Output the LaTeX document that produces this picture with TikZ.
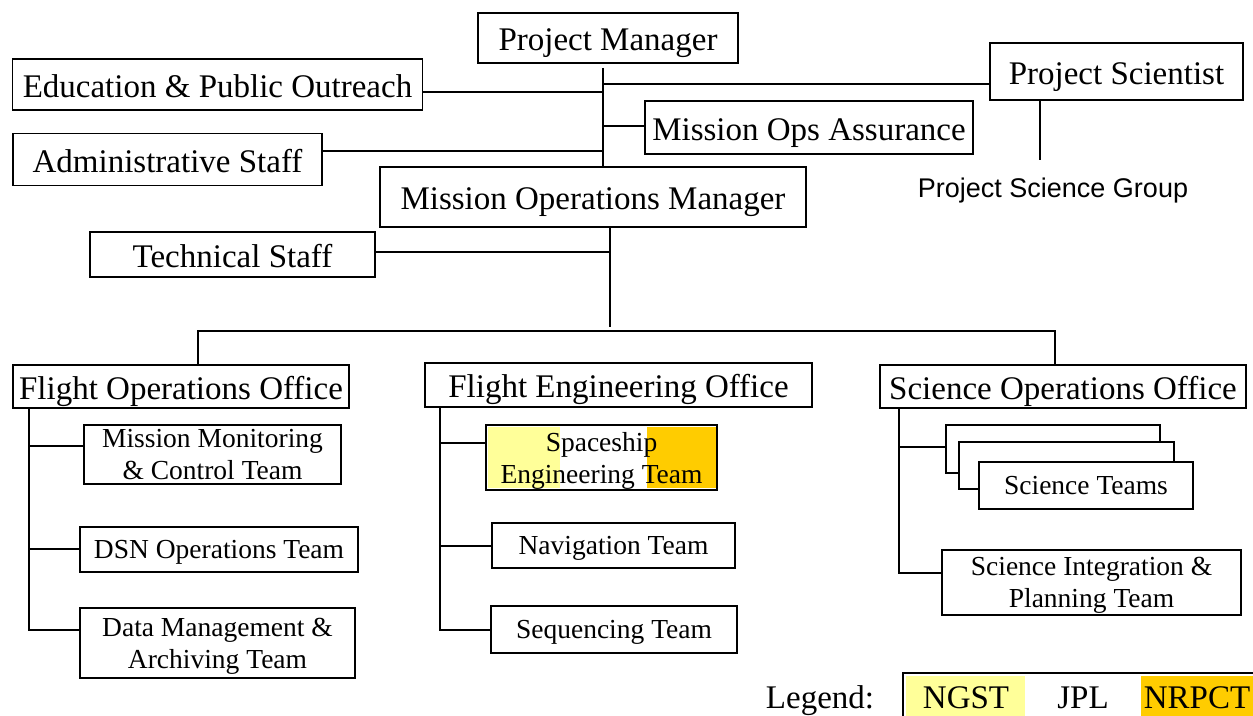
\documentclass[tikz,border=0pt]{standalone}
\usepackage{fontspec}
\setmainfont{Liberation Serif}
\newfontfamily\psgfont{Liberation Sans}
\usetikzlibrary{positioning, calc}
\definecolor{ngstyellow}{HTML}{FFFF99}
\definecolor{nrpctorange}{HTML}{FFCC00}

\begin{document}
\begin{tikzpicture}[x=1pt, y=-1pt,
  orgbox/.style={draw, line width=1.8pt, fill=white, inner sep=0pt, align=center, text depth=0pt},
  bigtext/.style={font=\fontsize{33}{36}\selectfont, text height=25pt},
  smalltext/.style={font=\fontsize{27.5}{32}\selectfont},
  link/.style={line width=1.8pt}]
  \useasboundingbox (0,0) rectangle (1253,715);

  % Top management
  \node[orgbox, bigtext, minimum width=260pt, minimum height=50pt] (pm) at (608,38) {Project Manager};
  \node[orgbox, bigtext, minimum width=410pt, minimum height=51pt] (epo) at (217.5,84.5) {Education \& Public Outreach};
  \node[orgbox, bigtext, minimum width=253pt, minimum height=57pt] (ps) at (1116.5,71.5) {Project Scientist};
  \node[orgbox, bigtext, minimum width=328pt, minimum height=53pt] (moa) at (809,127.5) {Mission Ops Assurance};
  \node[orgbox, bigtext, minimum width=309pt, minimum height=52pt] (admin) at (167.5,159.5) {Administrative Staff};
  \node[orgbox, bigtext, minimum width=426pt, minimum height=60pt] (mom) at (593,197) {Mission Operations Manager};
  \node[orgbox, bigtext, minimum width=285pt, minimum height=45pt] (tech) at (232.5,254.5) {Technical Staff};
  \node[inner sep=0pt, font=\psgfont\fontsize{27}{30}\selectfont] (psg) at (1053,191) {Project Science Group};

  % Offices
  \node[orgbox, bigtext, minimum width=336pt, minimum height=43pt] (foo) at (181,386.5) {Flight Operations Office};
  \node[orgbox, bigtext, minimum width=387pt, minimum height=44pt] (feo) at (618.5,385) {Flight Engineering Office};
  \node[orgbox, bigtext, minimum width=366pt, minimum height=43pt] (soo) at (1063,386.5) {Science Operations Office};

  % Flight operations teams
  \node[orgbox, smalltext, minimum width=257pt, minimum height=59pt] (mmct) at (212.5,454.5) {Mission Monitoring\\ \& Control Team};
  \node[orgbox, smalltext, minimum width=278pt, minimum height=45pt] (dsn) at (219,549.5) {DSN Operations Team};
  \node[orgbox, smalltext, minimum width=275pt, minimum height=70pt] (dma) at (217.5,643) {Data Management \&\\ Archiving Team};

  % Flight engineering teams
  \fill[ngstyellow] (488,427) rectangle (560,488);
  \fill[nrpctorange] (647,427) rectangle (716,488);
  \node[orgbox, smalltext, fill=none, minimum width=231pt, minimum height=65pt] (set) at (601.5,457.5) {Spaceship\\ Engineering Team};
  \node[orgbox, smalltext, minimum width=243pt, minimum height=45pt] (nav) at (613.5,545.5) {Navigation Team};
  \node[orgbox, smalltext, minimum width=246pt, minimum height=47pt] (seq) at (614,629.5) {Sequencing Team};

  % Science teams
  \node[orgbox, minimum width=214pt, minimum height=48pt] (stback) at (1053,449) {};
  \node[orgbox, minimum width=215pt, minimum height=47pt] (stmid) at (1066.5,465.5) {};
  \node[orgbox, smalltext, minimum width=214pt, minimum height=47pt] (st) at (1086,485.5) {Science Teams};
  \node[orgbox, smalltext, minimum width=299pt, minimum height=65pt] (sipt) at (1091.5,582.5) {Science Integration \&\\ Planning Team};

  % Connectors
  \coordinate (pmtrunk) at ([xshift=-5pt,yshift=-4pt]pm.south);
  \coordinate (hub) at (610,331);
  \draw[link] (pmtrunk) -- (pmtrunk |- mom.north);
  \draw[link] ([yshift=-7.5pt]epo.east) -- ([yshift=-7.5pt]epo.east -| pmtrunk);
  \draw[link] ([yshift=-12.5pt]ps.west) -- ([yshift=-12.5pt]ps.west -| pmtrunk);
  \draw[link] ([yshift=1.5pt]moa.west) -- ([yshift=1.5pt]moa.west -| pmtrunk);
  \draw[link] ([yshift=8.5pt]admin.east) -- ([yshift=8.5pt]admin.east -| pmtrunk);
  \draw[link] ([xshift=-76.5pt]ps.south) -- ([xshift=-76.5pt,yshift=18pt]ps.south |- psg.north);
  \draw[link] ([xshift=17pt]mom.south) -- ([yshift=4pt]hub);
  \draw[link] ([yshift=2.5pt]tech.east) -- ([yshift=2.5pt]tech.east -| hub);
  \draw[link] ([xshift=17pt]foo.north) |- ([xshift=-8pt]soo.north |- hub) -- ([xshift=-8pt]soo.north);

  \coordinate (foospine) at ([xshift=17pt]foo.south west);
  \draw[link] (foospine) |- ([yshift=13pt]dma.west);
  \draw[link] ([yshift=0.5pt]dsn.west) -- ([yshift=0.5pt]dsn.west -| foospine);
  \draw[link] ([yshift=8.5pt]mmct.west) -- ([yshift=8.5pt]mmct.west -| foospine);

  \coordinate (feospine) at ([xshift=16pt]feo.south west);
  \draw[link] (feospine) |- ([yshift=-0.5pt]seq.west);
  \draw[link] ([yshift=-0.5pt]nav.west) -- ([yshift=-0.5pt]nav.west -| feospine);
  \draw[link] ([yshift=14.5pt]set.west) -- ([yshift=14.5pt]set.west -| feospine);

  \coordinate (soospine) at ([xshift=20pt]soo.south west);
  \draw[link] (soospine) |- ([yshift=9.5pt]sipt.west);
  \draw[link] ([yshift=2pt]stback.west) -- ([yshift=2pt]stback.west -| soospine);

  % Legend
  \node[font=\fontsize{33}{36}\selectfont, inner sep=0pt, anchor=base] (legend) at (820,708) {Legend:};
  \fill[ngstyellow] (906,676) rectangle (1025,720);
  \fill[nrpctorange] (1141,676) rectangle (1260,720);
  \node[draw, line width=1.8pt, minimum width=360pt, minimum height=50pt] (legbox) at (1083,698) {};
  \node[font=\fontsize{33}{36}\selectfont, inner sep=0pt, anchor=base] (ngst) at (966,708) {NGST};
  \node[font=\fontsize{33}{36}\selectfont, inner sep=0pt, anchor=base] (jpl) at (1083,708) {JPL};
  \node[font=\fontsize{33}{36}\selectfont, inner sep=0pt, anchor=base] (nrpct) at (1197,708) {NRPCT};
\end{tikzpicture}
\end{document}
